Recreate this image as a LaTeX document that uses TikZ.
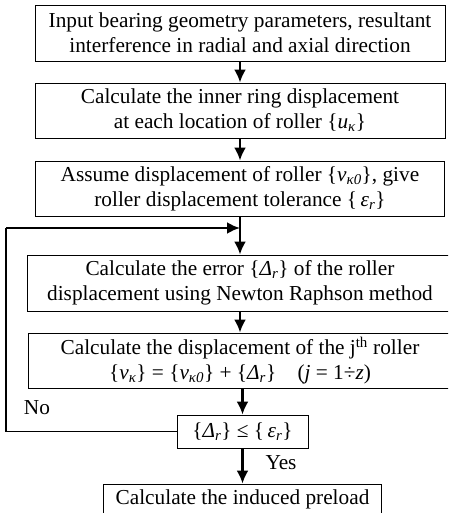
\documentclass[tikz,border=0pt]{standalone}
\usepackage{fontspec}
\setmainfont{Liberation Serif}
\usetikzlibrary{positioning,arrows.meta,calc}
\tikzset{block/.style={draw,line width=0.9pt,align=center,inner sep=0pt,font=\fontsize{21.3}{25}\selectfont}}
\tikzset{flow/.style={-{Latex[length=13pt,width=12pt]},line width=2.4pt}}
\tikzset{loopline/.style={line width=1.1pt}}
\tikzset{label/.style={font=\fontsize{21.3}{25}\selectfont}}
\newcommand{\subit}[1]{\textsubscript{\itshape #1}}

\begin{document}
\begin{tikzpicture}[x=1pt,y=-1pt]
  \clip (0,0) rectangle (448,513);

  \node[block,minimum width=410pt,minimum height=56pt] (input) at (240,33)
    {Input bearing geometry parameters, resultant\\interference in radial and axial direction};
  \node[block,minimum width=410pt,minimum height=55pt] (inner) at (240,110.5)
    {Calculate the inner ring displacement\\at each location of roller \{\textit{u}\subit{κ}\}};
  \node[block,minimum width=409pt,minimum height=55pt] (assume) at (240,188.5)
    {Assume displacement of roller \{\textit{ν}\subit{κ0}\}, give\\roller displacement tolerance \{\,\textit{ε}\subit{r}\}};
  \node[block,minimum width=426pt,minimum height=56pt] (error) at (240,283)
    {Calculate the error \{\textit{Δ}\subit{r}\} of the roller\\displacement using Newton Raphson method};
  \node[block,minimum width=424pt,minimum height=55pt] (roller) at (240,360.5)
    {Calculate the displacement of the j\textsuperscript{th} roller\\\{\textit{ν}\subit{κ}\} = \{\textit{ν}\subit{κ0}\} + \{\textit{Δ}\subit{r}\}\quad(\textit{j} = 1÷\textit{z})};
  \node[block,minimum width=131pt,minimum height=33pt] (check) at (242.5,431.5)
    {\{\textit{Δ}\subit{r}\} ≤ \{\,\textit{ε}\subit{r}\}};
  \node[block,minimum width=278pt,minimum height=30pt] (preload) at (242.5,499)
    {Calculate the induced preload};

  \node[label] (no) at (37,408) {No};
  \node[label] (yes) at (281,463) {Yes};

  \coordinate (join) at (240,228);
  \coordinate (bend) at (6,228);

  \draw[flow] (input) -- (inner);
  \draw[flow] (inner) -- (assume);
  \draw[flow] (assume) -- (error);
  \draw[flow] (error) -- (roller);
  \draw[flow] (roller.south -| check) -- (check);
  \draw[flow] (check) -- (preload);
  % back to the error step
  \draw[loopline] (check.west) -| (bend);
  \draw[flow] (bend) -- (join);
\end{tikzpicture}
\end{document}
